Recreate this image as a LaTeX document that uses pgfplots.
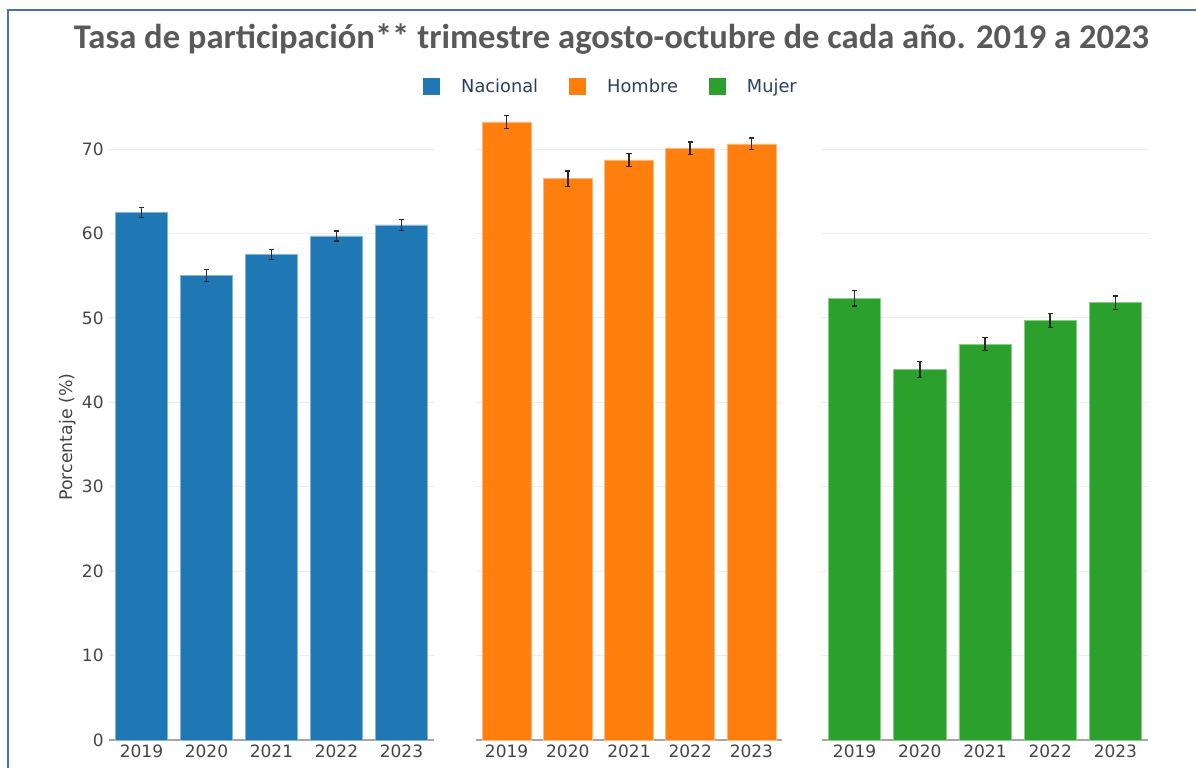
\documentclass[border=0pt]{standalone}
\usepackage{pgfplots}
\pgfplotsset{compat=1.18}
\usepackage{pgfplotstable}
\usepackage{fontspec}
\setmainfont{DejaVu Sans}
\newfontfamily\titlefont{Carlito}
\definecolor{cnac}{HTML}{1F77B4}
\definecolor{chom}{HTML}{FF7F0E}
\definecolor{cmuj}{HTML}{2CA02C}
\definecolor{txt}{HTML}{444444}
\definecolor{legtxt}{HTML}{2A3F5F}
\definecolor{ttl}{HTML}{595959}
\definecolor{frame}{HTML}{4A6FB5}
\definecolor{errc}{HTML}{2A2A2A}

\pgfplotstableread{
x y e
0 62.5 0.6
1 55.0 0.7
2 57.5 0.6
3 59.7 0.6
4 61.0 0.65
}\nacional
\pgfplotstableread{
x y e
0 73.2 0.75
1 66.5 0.9
2 68.7 0.75
3 70.1 0.73
4 70.6 0.7
}\hombre
\pgfplotstableread{
x y e
0 52.3 0.9
1 43.9 0.93
2 46.9 0.8
3 49.7 0.8
4 51.8 0.8
}\mujer

\pgfplotsset{
  panel/.style={
    scale only axis,
    anchor=south west,
    height=325.05pt,
    xmin=-0.5, xmax=4.5,
    ymin=0, ymax=77,
    axis lines*=left,
    y axis line style={draw=none},
    x axis line style={draw=black!35, line width=0.7pt},
    tick style={draw=none},
    xtick={0,1,2,3,4},
    xticklabels={2019,2020,2021,2022,2023},
    ytick={0,10,20,30,40,50,60,70},
    ymajorgrids,
    grid style={draw=black!7, line width=0.5pt},
    ticklabel style={font=\fontsize{8.5}{10}\selectfont, text=txt},
    xticklabel style={inner sep=0pt, yshift=-2pt},
    yticklabel style={inner sep=0pt, xshift=-2.5pt},
    /pgf/number format/assume math mode=true,
    clip=false,
  },
  barsty/.style={
    ybar, bar width=0.8, bar shift=0pt,
    fill=#1, draw=#1!55!white, line width=0.35pt,
    error bars/y dir=both, error bars/y explicit,
    error bars/error mark=-,
    error bars/error bar style={draw=errc, line width=0.75pt},
    error bars/error mark options={rotate=90, draw=errc, line width=0.6pt, mark size=1.3pt},
  },
}

\begin{document}
\begin{tikzpicture}
\useasboundingbox (0,0) rectangle (598pt,384pt);
\draw[frame, line width=0.8pt] (4pt,0pt) -- (4pt,379pt) -- (598pt,379pt);
\node[font=\titlefont\bfseries\fontsize{17.3}{20}\selectfont, text=ttl] at (305.75pt,364.5pt) {Tasa de participación** trimestre agosto-octubre de cada año. 2019 a 2023};

\begin{axis}[panel, at={(54.5pt,14pt)}, width=162.5pt,
  ylabel={Porcentaje (\%)},
  ylabel style={at={(axis description cs:-0.126,0.466)}, anchor=center, font=\fontsize{8.7}{10}\selectfont, text=txt},
  legend columns=3,
  legend image code/.code={\fill[#1, draw=none] (0pt,-4.25pt) rectangle (8.5pt,4.25pt);},
  legend style={at={(axis description cs:1.5477,1.0045)}, anchor=center, draw=none, fill=none,
    font=\fontsize{8.9}{10}\selectfont, text=legtxt,
    /tikz/every odd column/.append style={column sep=8.5pt},
    /tikz/every even column/.append style={column sep=13.5pt}},
]
\addplot[forget plot, barsty=cnac] table[x=x, y=y, y error=e] {\nacional};
\addlegendimage{fill=cnac}
\addlegendentry{Nacional}
\addlegendimage{fill=chom}
\addlegendentry{Hombre}
\addlegendimage{fill=cmuj}
\addlegendentry{Mujer}
\end{axis}

\begin{axis}[panel, at={(238pt,14pt)}, width=153pt, yticklabels={}]
\addplot[barsty=chom] table[x=x, y=y, y error=e] {\hombre};
\end{axis}

\begin{axis}[panel, at={(411pt,14pt)}, width=163pt, yticklabels={}]
\addplot[barsty=cmuj] table[x=x, y=y, y error=e] {\mujer};
\end{axis}
\end{tikzpicture}
\end{document}
